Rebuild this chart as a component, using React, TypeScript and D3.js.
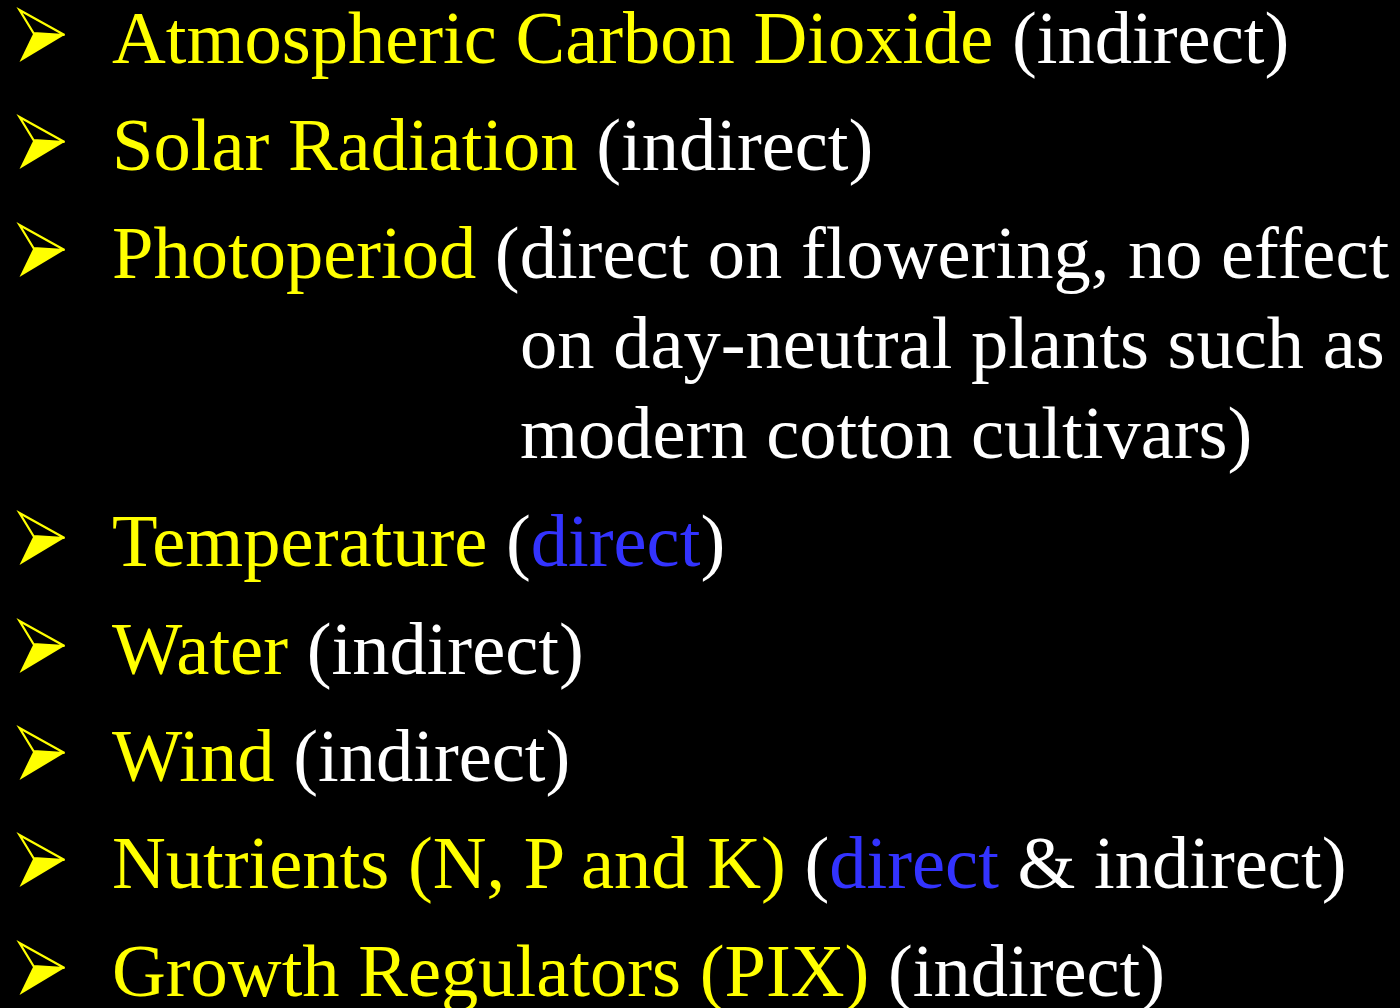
import React from "react";
import * as d3 from "d3";

type Seg = { t: string; c: "y" | "w" | "b" };

const bulletItems: Seg[][] = [
  [{ t: "Atmospheric Carbon Dioxide", c: "y" }, { t: " (indirect)", c: "w" }],
  [{ t: "Solar Radiation", c: "y" }, { t: " (indirect)", c: "w" }],
  [{ t: "Photoperiod", c: "y" }, { t: " (direct on flowering, no effect", c: "w" }],
  [{ t: "Temperature", c: "y" }, { t: " (", c: "w" }, { t: "direct", c: "b" }, { t: ")", c: "w" }],
  [{ t: "Water", c: "y" }, { t: " (indirect)", c: "w" }],
  [{ t: "Wind", c: "y" }, { t: " (indirect)", c: "w" }],
  [{ t: "Nutrients (N, P and K)", c: "y" }, { t: " (", c: "w" }, { t: "direct", c: "b" }, { t: " & indirect)", c: "w" }],
  [{ t: "Growth Regulators (PIX)", c: "y" }, { t: " (indirect)", c: "w" }],
];

const continuationLines: string[] = [
  "on day-neutral plants such as",
  "modern cotton cultivars)",
];

// baselines (px) of each row in reading order
const bulletBaselines: number[] = [63, 170, 278, 566, 674, 781, 888, 996];
const continuationBaselines: number[] = [368, 458];

const colors: Record<string, string> = { y: "#FFFF00", w: "#FFFFFF", b: "#3333FF" };

const W = 1400;
const H = 1008;
const FS = 74.5;

function Bullet({ y }: { y: number }) {
  const top: [number, number] = [19.5, y - 53];
  const tip: [number, number] = [64.5, y - 28];
  const notch: [number, number] = [33.5, y - 30];
  const bot: [number, number] = [19.5, y - 1];
  const line = d3.line();
  return (
    <g>
      <path d={line([top, tip, notch, top])! + "Z"} fill="none" stroke="#FFFF00" strokeWidth={2.2} strokeLinejoin="miter" />
      <path d={line([notch, tip, bot])! + "Z"} fill="#FFFF00" />
    </g>
  );
}

export default function App() {
  return (
    <svg width={W} height={H} style={{ position: "absolute", left: 0, top: 0, background: "#000" }}>
      <rect x={0} y={0} width={W} height={H} fill="#000" />
      <g fontFamily="'Liberation Serif', 'Times New Roman', serif" fontSize={FS}>
        {bulletItems.map((segs, i) => (
          <g key={i}>
            <Bullet y={bulletBaselines[i]} />
            <text x={112} y={bulletBaselines[i]} style={{ whiteSpace: "pre" }}>
              {segs.map((s, j) => (
                <tspan key={j} fill={colors[s.c]}>{s.t}</tspan>
              ))}
            </text>
          </g>
        ))}
        {continuationLines.map((t, i) => (
          <text key={"c" + i} x={520} y={continuationBaselines[i]} fill="#FFFFFF">{t}</text>
        ))}
      </g>
    </svg>
  );
}
